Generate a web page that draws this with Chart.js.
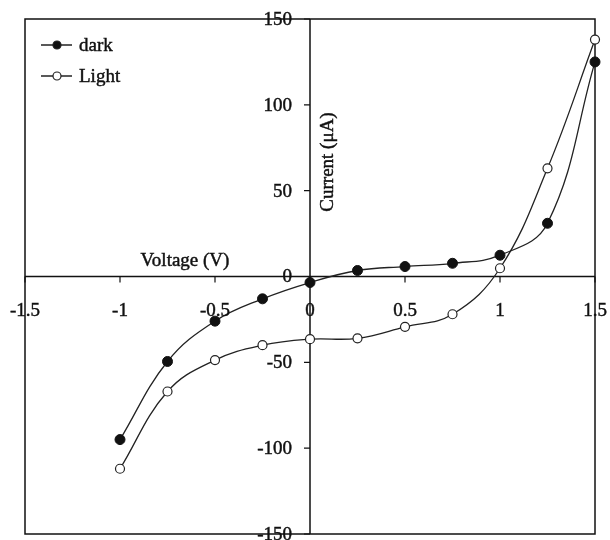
<!DOCTYPE html>
<html>
<head>
<meta charset="utf-8">
<script src="https://cdn.jsdelivr.net/npm/chart.js@4"></script>
<style>
html,body{margin:0;padding:0;background:#fff;}
#wrap{width:610px;height:540px;}
</style>
</head>
<body>
<div id="wrap"><canvas id="c" width="610" height="540"></canvas></div>
<script>
const voltage = [-1, -0.75, -0.5, -0.25, 0, 0.25, 0.5, 0.75, 1, 1.25, 1.5];
const darkCurrent = [-95, -49.5, -26, -13, -3.5, 3.5, 5.8, 7.7, 12.4, 31, 125];
const lightCurrent = [-112, -67, -48.7, -40, -36.5, -36, -29.3, -22, 4.8, 63, 138];
const xTickValues = [-1.5, -1, -0.5, 0, 0.5, 1, 1.5];
const xTickLabels = ['-1.5', '-1', '-0.5', '0', '0.5', '1', '1.5'];
const yTickValues = [-150, -100, -50, 0, 50, 100, 150];
const yTickLabels = ['-150', '-100', '-50', '0', '50', '100', '150'];
const seriesNames = ['dark', 'Light'];
const xTitle = 'Voltage (V)';
const yTitle = 'Current (\u03BCA)';

const FONT = '19px "Liberation Serif", "Times New Roman", serif';
const INK = '#111';

function heavyText(ctx, s, x, y) {
  ctx.fillText(s, x, y);
  ctx.strokeText(s, x, y);
}

const axesPlugin = {
  id: 'crossAxes',
  beforeDatasetsDraw(chart) {
    const {ctx, chartArea: a, scales: {x, y}} = chart;
    ctx.save();
    ctx.strokeStyle = INK;
    ctx.lineWidth = 1.5;
    ctx.strokeRect(a.left, a.top, a.right - a.left, a.bottom - a.top);
    const x0 = x.getPixelForValue(0);
    const y0 = y.getPixelForValue(0);
    ctx.beginPath();
    ctx.moveTo(a.left, y0); ctx.lineTo(a.right, y0);
    ctx.moveTo(x0, a.top); ctx.lineTo(x0, a.bottom);
    ctx.stroke();
    ctx.lineWidth = 1.2;
    ctx.beginPath();
    xTickValues.forEach(v => {
      const px = x.getPixelForValue(v);
      ctx.moveTo(px, y0); ctx.lineTo(px, y0 + 6);
    });
    yTickValues.forEach(v => {
      const py = y.getPixelForValue(v);
      ctx.moveTo(x0, py); ctx.lineTo(x0 - 6, py);
    });
    ctx.stroke();
    ctx.restore();
  },
  afterDraw(chart) {
    const {ctx, scales: {x, y}} = chart;
    const x0 = x.getPixelForValue(0);
    const y0 = y.getPixelForValue(0);
    ctx.save();
    ctx.fillStyle = INK;
    ctx.strokeStyle = INK;
    ctx.lineWidth = 0.45;
    ctx.font = FONT;
    ctx.textAlign = 'center';
    ctx.textBaseline = 'middle';
    xTickValues.forEach((v, i) => {
      heavyText(ctx, xTickLabels[i], x.getPixelForValue(v), y0 + 35);
    });
    ctx.textAlign = 'right';
    yTickValues.forEach((v, i) => {
      heavyText(ctx, yTickLabels[i], x0 - 18, y.getPixelForValue(v) + 1);
    });
    ctx.textAlign = 'center';
    heavyText(ctx, xTitle, 185, 261);
    ctx.save();
    ctx.translate(328, 162);
    ctx.rotate(-Math.PI / 2);
    heavyText(ctx, yTitle, 0, 0);
    ctx.restore();
    const rows = [45, 76];
    chart.data.datasets.forEach((ds, i) => {
      const yy = rows[i];
      ctx.strokeStyle = '#222';
      ctx.lineWidth = 1.5;
      ctx.beginPath();
      ctx.moveTo(41, yy); ctx.lineTo(72, yy);
      ctx.stroke();
      ctx.beginPath();
      ctx.arc(57, yy, 4, 0, Math.PI * 2);
      ctx.fillStyle = ds.pointBackgroundColor;
      ctx.fill();
      ctx.lineWidth = 1.2;
      ctx.stroke();
      ctx.fillStyle = INK;
      ctx.strokeStyle = INK;
      ctx.lineWidth = 0.45;
      ctx.textAlign = 'left';
      heavyText(ctx, ds.label, 79, yy + 1);
    });
    ctx.restore();
  }
};

new Chart(document.getElementById('c'), {
  type: 'line',
  data: {
    datasets: [
      {
        label: seriesNames[0],
        data: voltage.map((v, i) => ({x: v, y: darkCurrent[i]})),
        borderColor: '#222',
        borderWidth: 1.3,
        pointRadius: 5,
        pointBackgroundColor: '#111',
        pointBorderColor: '#111',
        pointBorderWidth: 1,
        tension: 0.4,
        clip: false
      },
      {
        label: seriesNames[1],
        data: voltage.map((v, i) => ({x: v, y: lightCurrent[i]})),
        borderColor: '#222',
        borderWidth: 1.3,
        pointRadius: 4.5,
        pointBackgroundColor: '#fff',
        pointBorderColor: '#222',
        pointBorderWidth: 1.2,
        tension: 0.4,
        clip: false
      }
    ]
  },
  options: {
    responsive: false,
    animation: false,
    layout: {padding: {left: 25, right: 15, top: 19, bottom: 5}},
    plugins: {legend: {display: false}, tooltip: {enabled: false}},
    scales: {
      x: {type: 'linear', min: -1.5, max: 1.5, display: false},
      y: {type: 'linear', min: -150, max: 150, display: false}
    }
  },
  plugins: [axesPlugin]
});
</script>
</body>
</html>
